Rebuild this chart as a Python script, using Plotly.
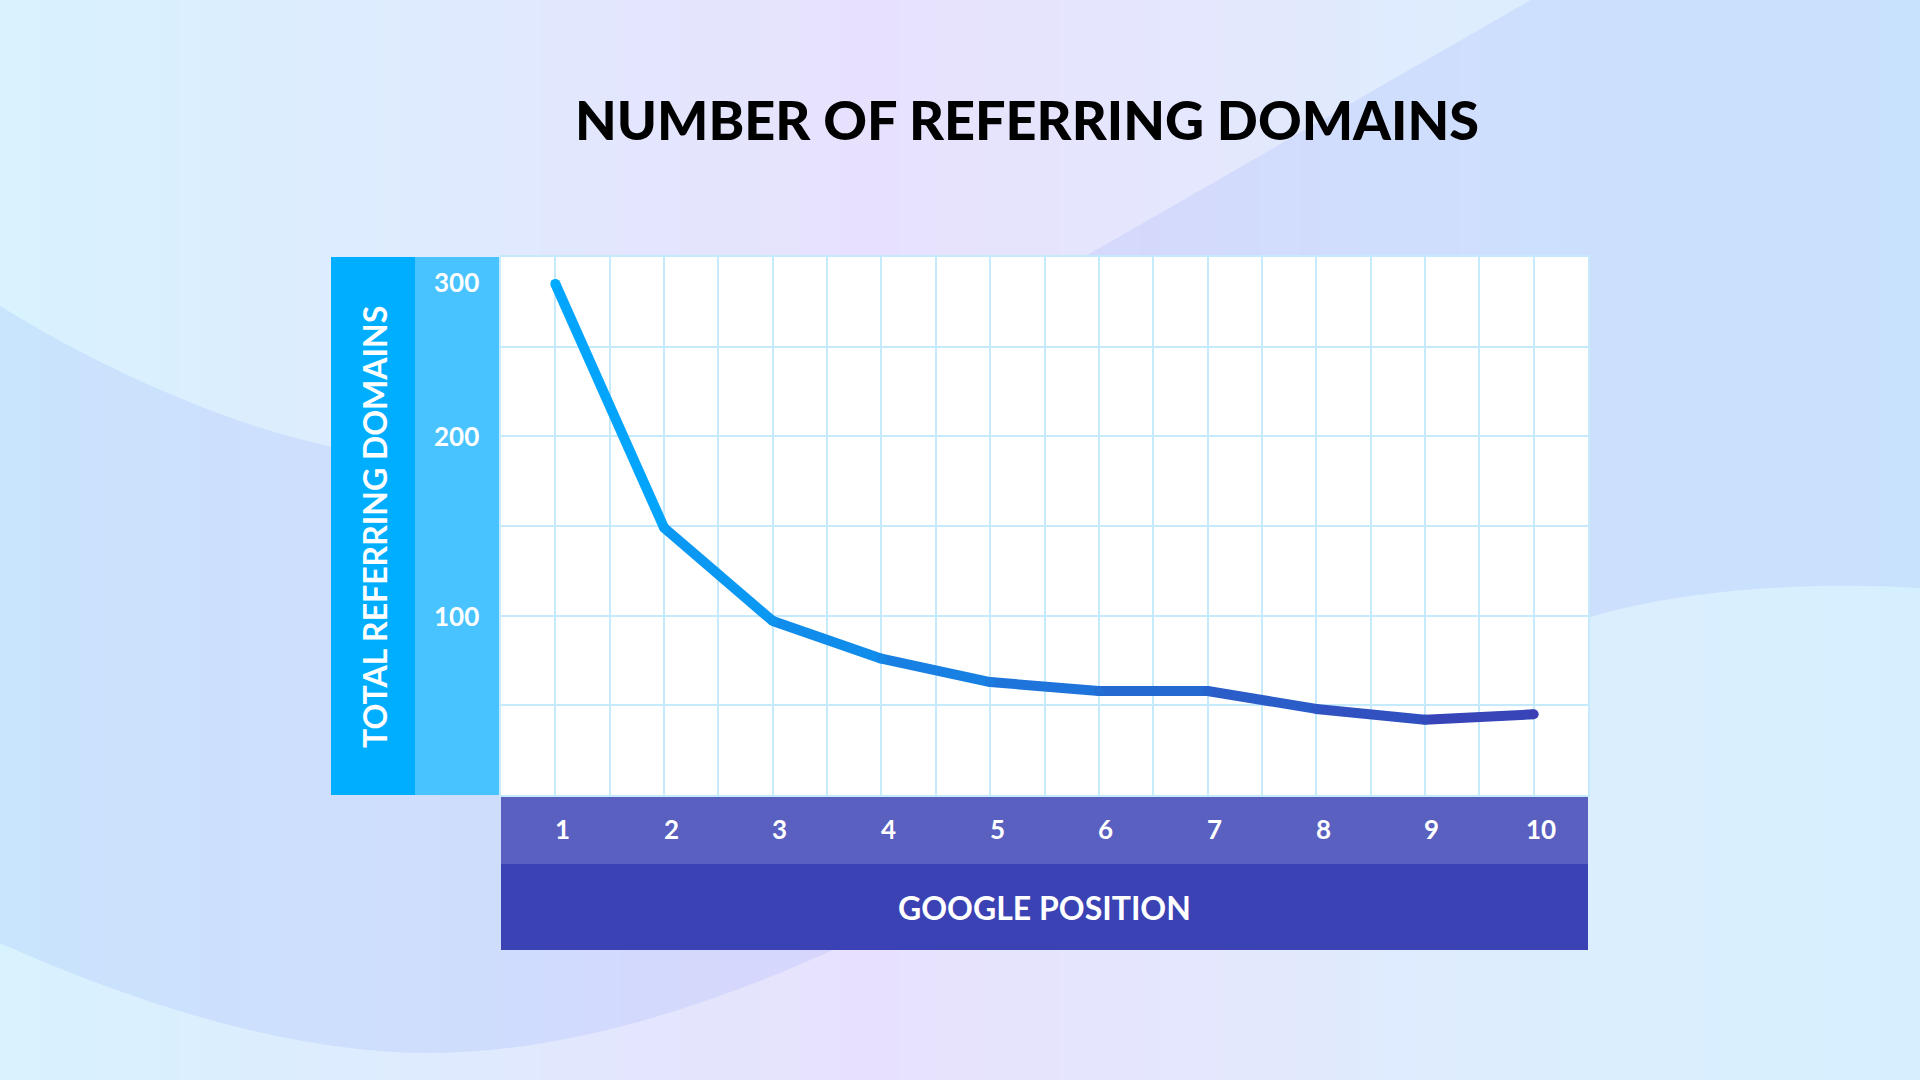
import plotly.graph_objects as go

# data
positions = [1, 2, 3, 4, 5, 6, 7, 8, 9, 10]
domains = [285, 149, 97, 76, 63, 58, 58, 48, 42, 45]
y_tick_vals = [100, 200, 300]
y_tick_text = ["100", "200", "300"]
x_tick_text = [str(p) for p in positions]

W, H = 1920, 1080
L, R, T, B = 501, 1588, 257, 795  # plot area in pixels


def px(x):
    return (x - L) / (R - L)


def py(y):
    return (B - y) / (B - T)


def mix(c1, c2, t):
    return "rgb(%d,%d,%d)" % tuple(round(a + (b - a) * t) for a, b in zip(c1, c2))


fig = go.Figure()

# line drawn segment by segment so the colour can fade from cyan to indigo
start_c, end_c = (0, 170, 255), (59, 63, 180)
n = len(positions)
for i in range(n - 1):
    col = mix(start_c, end_c, (i + 0.5) / (n - 1))
    fig.add_trace(go.Scatter(x=positions[i:i + 2], y=domains[i:i + 2], mode="lines",
                             line=dict(color=col, width=10), hoverinfo="skip", showlegend=False))
fig.add_trace(go.Scatter(x=positions, y=domains, mode="markers",
                         marker=dict(size=10, color=[mix(start_c, end_c, i / (n - 1)) for i in range(n)],
                                     line=dict(width=0)),
                         showlegend=False, hovertemplate="%{x}: %{y}<extra></extra>"))

shapes = []
# background gradient in thin strips
stops = [(0.0, (216, 242, 254)), (0.25, (223, 234, 254)), (0.45, (232, 225, 253)),
         (0.62, (228, 231, 253)), (0.8, (220, 238, 254)), (1.0, (214, 239, 254))]
strips = 96
for k in range(strips):
    f = (k + 0.5) / strips
    for j in range(len(stops) - 1):
        if stops[j][0] <= f <= stops[j + 1][0]:
            t = (f - stops[j][0]) / (stops[j + 1][0] - stops[j][0])
            c = mix(stops[j][1], stops[j + 1][1], t)
            break
    shapes.append(dict(type="rect", xref="paper", yref="paper", layer="below",
                       x0=px(k * W / strips), x1=px((k + 1) * W / strips + 1), y0=py(H), y1=py(0),
                       fillcolor=c, line=dict(width=0)))

# big wave blob behind the chart
def pt(x, y):
    return "%.5f,%.5f" % (px(x), py(y))

wave = ("M " + pt(0, 306) + " C " + pt(98, 367) + " " + pt(220, 422) + " " + pt(331, 447) +
        " L " + pt(700, 447) + " L " + pt(1084, 257) + " L " + pt(1531, 0) + " L " + pt(1920, 0) +
        " L " + pt(1920, 588) + " C " + pt(1780, 580) + " " + pt(1660, 595) + " " + pt(1588, 618) +
        " L " + pt(1588, 950) + " L " + pt(833, 950) +
        " C " + pt(700, 1010) + " " + pt(560, 1053) + " " + pt(429, 1053) +
        " C " + pt(300, 1053) + " " + pt(150, 1010) + " " + pt(0, 943) + " Z")
shapes.append(dict(type="path", path=wave, xref="paper", yref="paper", layer="below",
                   fillcolor="rgba(120,150,250,0.15)", line=dict(width=0)))

# white plot panel and axis bands
shapes += [
    dict(type="rect", xref="paper", yref="paper", layer="below", x0=0, x1=1,
         y0=0, y1=1, fillcolor="white", line=dict(width=0)),
    dict(type="rect", xref="paper", yref="paper", layer="below", x0=px(331), x1=px(415),
         y0=0, y1=1, fillcolor="#00aeff", line=dict(width=0)),
    dict(type="rect", xref="paper", yref="paper", layer="below", x0=px(415), x1=0,
         y0=0, y1=1, fillcolor="#48c3ff", line=dict(width=0)),
    dict(type="rect", xref="paper", yref="paper", layer="below", x0=0, x1=1,
         y0=py(864), y1=0, fillcolor="#5a60c0", line=dict(width=0)),
    dict(type="rect", xref="paper", yref="paper", layer="below", x0=0, x1=1,
         y0=py(950), y1=py(864), fillcolor="#3a42b4", line=dict(width=0)),
]

ann = []
lab = dict(family="Lato", size=26, color="white", weight="bold")
for v, t in zip(y_tick_vals, y_tick_text):
    ann.append(dict(x=px(456), xref="paper", y=v, yref="y", text=t, showarrow=False,
                    font=lab, xanchor="center", yanchor="middle",
                    yshift=-25 if v == max(y_tick_vals) else 0))
for p, t in zip(positions, x_tick_text):
    ann.append(dict(x=p, xref="x", y=py(829), yref="paper", text=t, showarrow=False,
                    font=lab, xanchor="center", yanchor="middle", xshift=7))

ann.append(dict(x=px(1027), y=py(120), xref="paper", yref="paper", text="NUMBER OF REFERRING DOMAINS",
                showarrow=False, font=dict(family="Lato", size=54, color="black", weight=900),
                xanchor="center", yanchor="middle"))
ann.append(dict(x=px(1044), y=py(907), xref="paper", yref="paper", text="GOOGLE POSITION",
                showarrow=False, font=dict(family="Lato", size=32, color="white", weight="bold"),
                xanchor="center", yanchor="middle"))
ann.append(dict(x=px(374), y=py(527), xref="paper", yref="paper", text="TOTAL REFERRING DOMAINS",
                showarrow=False, textangle=-90, font=dict(family="Lato", size=32, color="white", weight="bold"),
                xanchor="center", yanchor="middle"))

grid = "#c4eafc"
fig.update_layout(
    width=W, height=H, autosize=False,
    margin=dict(l=L, r=W - R, t=T, b=H - B, pad=0),
    paper_bgcolor="#dde9fe", plot_bgcolor="white",
    shapes=shapes, annotations=ann, showlegend=False,
    xaxis=dict(range=[0.5, 10.5], dtick=0.5, tick0=0.5, showgrid=True, gridcolor=grid, gridwidth=1.5,
               zeroline=False, showticklabels=False, ticks="", showline=True, mirror=True,
               linecolor=grid, linewidth=2, fixedrange=True),
    yaxis=dict(range=[0, 300], dtick=50, showgrid=True, gridcolor=grid, gridwidth=1.5,
               zeroline=False, showticklabels=False, ticks="", showline=True, mirror=True,
               linecolor=grid, linewidth=2, fixedrange=True),
)

fig.write_html("out.html", config={"displayModeBar": False},
               post_script="document.body.style.margin='0';document.body.style.overflow='hidden';")
